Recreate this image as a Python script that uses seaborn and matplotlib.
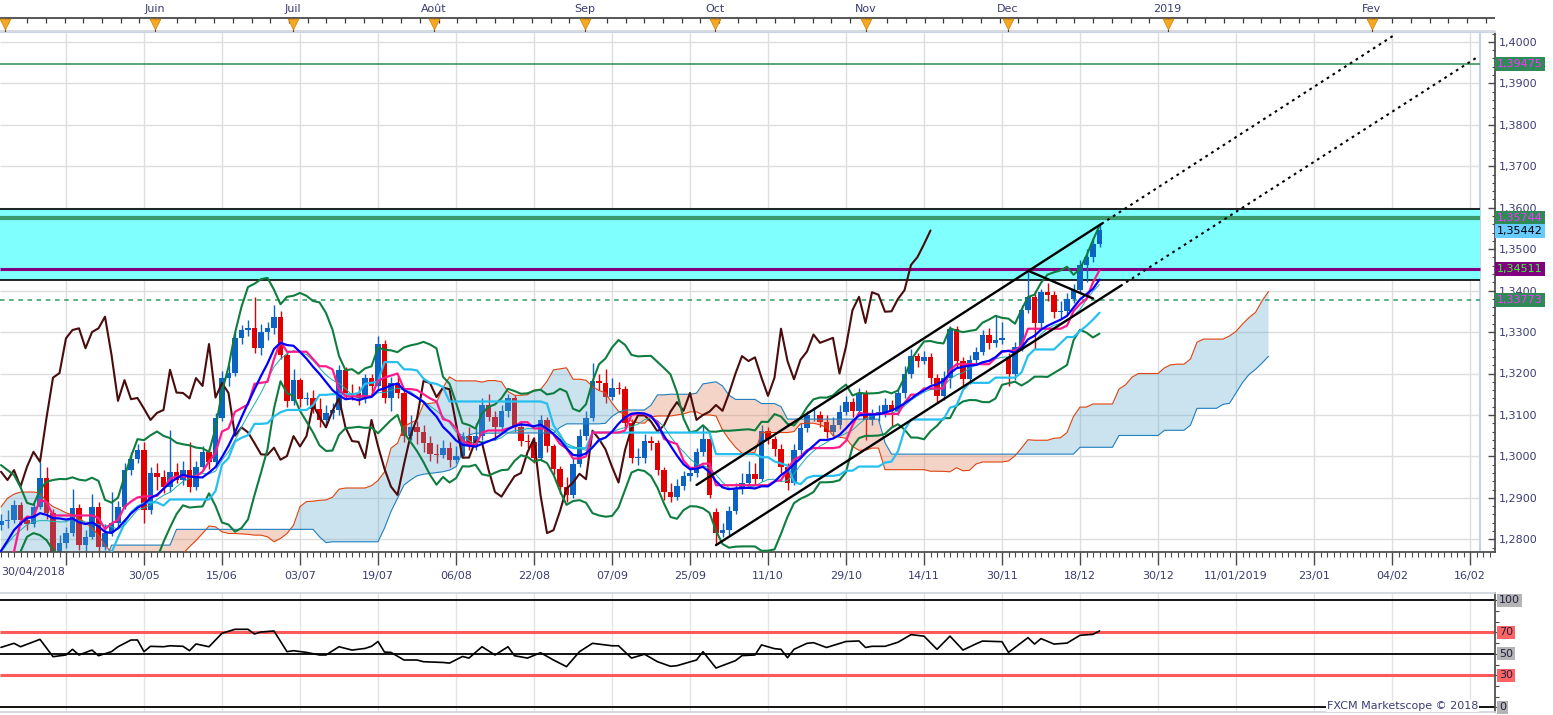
import numpy as np
import pandas as pd
import matplotlib
matplotlib.use("Agg")
import matplotlib.pyplot as plt
from matplotlib.transforms import blended_transform_factory
import seaborn as sns

# USD/CAD daily candles: bar 0 = 30/04/2018 ... bar 169 = 21/12/2018
opens = [
    1.2835, 1.2843, 1.2847, 1.2883, 1.2847, 1.2838, 1.2879, 1.2948, 1.2863, 1.2765,
    1.2791, 1.2815, 1.2876, 1.2787, 1.2806, 1.2878, 1.2781, 1.2815, 1.2839, 1.2879,
    1.2967, 1.2994, 1.3015, 1.2871, 1.2960, 1.2950, 1.2926, 1.2963, 1.2943, 1.2967,
    1.2927, 1.2975, 1.3011, 1.2987, 1.3093, 1.3190, 1.3201, 1.3285, 1.3305, 1.3309,
    1.3261, 1.3300, 1.3309, 1.3337, 1.3245, 1.3134, 1.3184, 1.3138, 1.3141, 1.3115,
    1.3088, 1.3105, 1.3112, 1.3209, 1.3154, 1.3153, 1.3140, 1.3189, 1.3170, 1.3271,
    1.3142, 1.3177, 1.3153, 1.3050, 1.3070, 1.3058, 1.3032, 1.3005, 1.3004, 1.3021,
    1.2992, 1.3001, 1.3049, 1.3024, 1.3049, 1.3125, 1.3095, 1.3070, 1.3110, 1.3140,
    1.3070, 1.3037, 1.3035, 1.2996, 1.3088, 1.3025, 1.2970, 1.2927, 1.2907, 1.2981,
    1.3050, 1.3092, 1.3182, 1.3177, 1.3143, 1.3166, 1.3162, 1.3080, 1.2997, 1.2997,
    1.3038, 1.3033, 1.2968, 1.2914, 1.2903, 1.2928, 1.2952, 1.2960, 1.3010, 1.3043,
    1.2865, 1.2815, 1.2822, 1.2868, 1.2922, 1.2937, 1.2958, 1.2945, 1.3062, 1.3042,
    1.3017, 1.2975, 1.2937, 1.3015, 1.3068, 1.3099, 1.3099, 1.3084, 1.3060, 1.3075,
    1.3108, 1.3131, 1.3110, 1.3153, 1.3088, 1.3100, 1.3108, 1.3124, 1.3110, 1.3152,
    1.3200, 1.3242, 1.3230, 1.3239, 1.3190, 1.3146, 1.3190, 1.3308, 1.3230, 1.3186,
    1.3233, 1.3253, 1.3294, 1.3274, 1.3280, 1.3240, 1.3200, 1.3265, 1.3353, 1.3385,
    1.3322, 1.3396, 1.3390, 1.3349, 1.3350, 1.3380, 1.3401, 1.3462, 1.3481, 1.3512,
]
highs = [
    1.2862, 1.2870, 1.2895, 1.2890, 1.2858, 1.2890, 1.2987, 1.2975, 1.2872, 1.2810,
    1.2830, 1.2921, 1.2885, 1.2822, 1.2910, 1.2890, 1.2838, 1.2915, 1.2892, 1.2985,
    1.3010, 1.3030, 1.3035, 1.2975, 1.2985, 1.2968, 1.3064, 1.2985, 1.2990, 1.3035,
    1.2990, 1.3025, 1.3020, 1.3105, 1.3205, 1.3220, 1.3300, 1.3318, 1.3330, 1.3385,
    1.3320, 1.3325, 1.3365, 1.3350, 1.3255, 1.3212, 1.3190, 1.3155, 1.3160, 1.3140,
    1.3125, 1.3130, 1.3220, 1.3215, 1.3175, 1.3170, 1.3200, 1.3200, 1.3290, 1.3280,
    1.3192, 1.3195, 1.3160, 1.3100, 1.3085, 1.3075, 1.3050, 1.3030, 1.3040, 1.3035,
    1.3025, 1.3060, 1.3070, 1.3080, 1.3140, 1.3150, 1.3110, 1.3125, 1.3150, 1.3148,
    1.3085, 1.3055, 1.3048, 1.3100, 1.3095, 1.3030, 1.2978, 1.2950, 1.2995, 1.3065,
    1.3110, 1.3225, 1.3200, 1.3210, 1.3190, 1.3180, 1.3170, 1.3090, 1.3020, 1.3055,
    1.3050, 1.3040, 1.2975, 1.2935, 1.2945, 1.2965, 1.2975, 1.3020, 1.3075, 1.3050,
    1.2875, 1.2840, 1.2880, 1.2935, 1.2960, 1.2990, 1.2985, 1.3075, 1.3070, 1.3050,
    1.3030, 1.2985, 1.3030, 1.3080, 1.3110, 1.3120, 1.3110, 1.3100, 1.3095, 1.3125,
    1.3145, 1.3140, 1.3165, 1.3160, 1.3115, 1.3125, 1.3140, 1.3135, 1.3165, 1.3218,
    1.3258, 1.3250, 1.3255, 1.3250, 1.3200, 1.3205, 1.3315, 1.3315, 1.3240, 1.3245,
    1.3265, 1.3305, 1.3310, 1.3340, 1.3325, 1.3250, 1.3275, 1.3365, 1.3446, 1.3400,
    1.3405, 1.3419, 1.3400, 1.3375, 1.3395, 1.3415, 1.3475, 1.3500, 1.3530, 1.3563,
]
lows = [
    1.2822, 1.2828, 1.2840, 1.2835, 1.2822, 1.2830, 1.2872, 1.2850, 1.2728, 1.2755,
    1.2780, 1.2808, 1.2775, 1.2772, 1.2800, 1.2772, 1.2775, 1.2808, 1.2828, 1.2872,
    1.2955, 1.2985, 1.2839, 1.2862, 1.2920, 1.2912, 1.2915, 1.2935, 1.2930, 1.2915,
    1.2920, 1.2965, 1.2970, 1.2975, 1.3085, 1.3170, 1.3195, 1.3270, 1.3290, 1.3250,
    1.3245, 1.3280, 1.3295, 1.3235, 1.3120, 1.3125, 1.3120, 1.3125, 1.3105, 1.3070,
    1.3075, 1.3090, 1.3100, 1.3140, 1.3135, 1.3125, 1.3130, 1.3155, 1.3160, 1.3130,
    1.3110, 1.3140, 1.3035, 1.3040, 1.3030, 1.3010, 1.2990, 1.2985, 1.2995, 1.2975,
    1.2985, 1.2995, 1.3015, 1.3015, 1.3040, 1.3085, 1.3040, 1.3060, 1.3095, 1.3060,
    1.3025, 1.3020, 1.2985, 1.2990, 1.3010, 1.2955, 1.2910, 1.2890, 1.2900, 1.2975,
    1.3040, 1.3085, 1.3160, 1.3130, 1.3135, 1.3150, 1.3070, 1.2985, 1.2980, 1.2985,
    1.3015, 1.2955, 1.2895, 1.2890, 1.2895, 1.2920, 1.2940, 1.2950, 1.3000, 1.2900,
    1.2786, 1.2805, 1.2810, 1.2860, 1.2910, 1.2930, 1.2930, 1.2940, 1.3030, 1.3000,
    1.2960, 1.2920, 1.2930, 1.3005, 1.3060, 1.3085, 1.3070, 1.3045, 1.3050, 1.3065,
    1.3100, 1.3095, 1.3100, 1.3040, 1.3075, 1.3085, 1.3095, 1.3070, 1.3100, 1.3140,
    1.3190, 1.3215, 1.3222, 1.3175, 1.3130, 1.3135, 1.3165, 1.3215, 1.3170, 1.3175,
    1.3220, 1.3245, 1.3260, 1.3265, 1.3270, 1.3170, 1.3185, 1.3255, 1.3345, 1.3260,
    1.3310, 1.3375, 1.3335, 1.3335, 1.3340, 1.3370, 1.3395, 1.3420, 1.3470, 1.3505,
]
closes = [
    1.2843, 1.2847, 1.2883, 1.2847, 1.2838, 1.2879, 1.2948, 1.2863, 1.2765, 1.2791,
    1.2815, 1.2876, 1.2787, 1.2806, 1.2878, 1.2781, 1.2815, 1.2839, 1.2879, 1.2967,
    1.2994, 1.3015, 1.2871, 1.2960, 1.2950, 1.2926, 1.2963, 1.2943, 1.2967, 1.2927,
    1.2975, 1.3011, 1.2987, 1.3093, 1.3190, 1.3201, 1.3285, 1.3305, 1.3309, 1.3261,
    1.3300, 1.3309, 1.3337, 1.3245, 1.3134, 1.3184, 1.3138, 1.3141, 1.3115, 1.3088,
    1.3105, 1.3112, 1.3209, 1.3154, 1.3153, 1.3140, 1.3189, 1.3170, 1.3271, 1.3142,
    1.3177, 1.3153, 1.3050, 1.3070, 1.3058, 1.3032, 1.3005, 1.3004, 1.3021, 1.2992,
    1.3001, 1.3049, 1.3024, 1.3049, 1.3125, 1.3095, 1.3070, 1.3110, 1.3140, 1.3070,
    1.3037, 1.3035, 1.2996, 1.3088, 1.3025, 1.2970, 1.2927, 1.2907, 1.2981, 1.3050,
    1.3092, 1.3182, 1.3177, 1.3143, 1.3166, 1.3162, 1.3080, 1.2997, 1.2997, 1.3038,
    1.3033, 1.2968, 1.2914, 1.2903, 1.2928, 1.2952, 1.2960, 1.3010, 1.3043, 1.2907,
    1.2815, 1.2822, 1.2868, 1.2922, 1.2937, 1.2958, 1.2945, 1.3062, 1.3042, 1.3017,
    1.2975, 1.2937, 1.3015, 1.3068, 1.3099, 1.3099, 1.3084, 1.3060, 1.3075, 1.3108,
    1.3131, 1.3110, 1.3153, 1.3088, 1.3100, 1.3108, 1.3124, 1.3110, 1.3152, 1.3200,
    1.3242, 1.3230, 1.3239, 1.3190, 1.3146, 1.3190, 1.3308, 1.3230, 1.3186, 1.3233,
    1.3253, 1.3294, 1.3274, 1.3280, 1.3286, 1.3200, 1.3265, 1.3353, 1.3385, 1.3322,
    1.3396, 1.3390, 1.3349, 1.3350, 1.3380, 1.3401, 1.3462, 1.3481, 1.3512, 1.3545,
]

# indicator values on the left edge, where the rolling windows are not yet full
bb_upper_head = [1.2979, 1.2967, 1.2955, 1.2926, 1.2888, 1.2883, 1.2919, 1.2939, 1.2943]
bb_lower_head = [1.2755, 1.2758, 1.2762, 1.2770, 1.2806, 1.2815, 1.2810, 1.2798, 1.2774]
sma10_head = [1.2772, 1.2796, 1.2822, 1.2838, 1.2851, 1.2854, 1.2863, 1.2859, 1.2851]
sma12_head = [1.2770, 1.2790, 1.2808, 1.2822, 1.2835, 1.2842, 1.2845, 1.2845, 1.2843,
              1.2842, 1.2842]
tenkan_head = [1.2750, 1.2760, 1.2770, 1.2842, 1.2854, 1.2854, 1.2895, 1.2890]
kijun_head = [1.2750, 1.2750, 1.2750, 1.2750, 1.2750, 1.2750,
              1.2757, 1.2757, 1.2757, 1.2757, 1.2757, 1.2757, 1.2757, 1.2757, 1.2757,
              1.2757, 1.2757, 1.2768, 1.2804, 1.2838, 1.2865, 1.2879, 1.2887, 1.2889,
              1.2889]
span_a_head = [1.2878, 1.2899, 1.2909, 1.2914, 1.2914, 1.2914, 1.2912, 1.2891, 1.2879,
               1.2872, 1.2864, 1.2859, 1.2851, 1.2840, 1.2827, 1.2810, 1.2786, 1.2768,
               1.2760, 1.2760, 1.2760, 1.2760, 1.2760, 1.2760, 1.2760, 1.2760, 1.2760,
               1.2760, 1.2766, 1.2782, 1.2797, 1.2814, 1.2832, 1.2830, 1.2818, 1.2814,
               1.2814, 1.2813, 1.2812, 1.2810, 1.2810, 1.2806, 1.2794, 1.2802, 1.2814,
               1.2834, 1.2879, 1.2891, 1.2892, 1.2894, 1.2895]
span_b_head = [1.2745] * 17 + [1.2786] * 10 + [1.2824] * 22 + [1.2806, 1.2792] + \
              [1.2794] * 8 + [1.2827, 1.2867, 1.2899, 1.2931, 1.2943, 1.2953, 1.2957,
                              1.2959, 1.2961, 1.2963, 1.2967, 1.2975, 1.3010, 1.3052] + \
              [1.3056] * 4

# RSI(14)
rsi_bars = [0, 2, 3, 6, 8, 10, 11, 12, 14, 15, 17, 18, 20, 21, 22, 23, 25, 26, 28, 29,
            30, 32, 34, 36, 38, 39, 40, 42, 44, 45, 47, 49, 50, 52, 54, 56, 57, 58, 59, 60,
            62, 64, 65, 68, 69, 71, 72, 74, 76, 78, 79, 81, 83, 85, 87, 89, 91, 94, 95, 97,
            99, 101, 103, 104, 107, 108, 110, 113, 114, 116, 117, 119, 120, 121, 122, 124,
            125, 127, 130, 132, 133, 134, 136, 138, 140, 142, 144, 146, 148, 150, 151, 154,
            155, 158, 159, 160, 162, 164, 166, 168, 169]
rsi_values = [56, 59.8, 56.6, 63.5, 47.3, 48.9, 54.2, 48.9, 53.5, 48.2, 52, 56.6, 62.9,
              62.9, 52, 57, 56.6, 57.5, 57, 52.9, 59.2, 56.6, 69.2, 72.9, 72.9, 68.5, 70.4,
              71.3, 52, 52.9, 51.3, 48.9, 48.9, 56.6, 53.5, 55, 57, 61.5, 51.6, 51.3, 44.2,
              44.2, 42.6, 41.9, 41.3, 47.5, 46, 56.6, 48.9, 56.6, 48.2, 46, 51, 44.2, 38,
              52, 59.8, 57.5, 57.5, 46, 49.6, 42.6, 38.3, 38.9, 44.2, 52, 36.7, 43.6, 48.3,
              48.9, 58.3, 54.8, 54.2, 46.3, 54.2, 59.8, 60.4, 55.9, 61.5, 62, 55.9, 57, 57,
              60.8, 67.9, 66.5, 54.2, 66.5, 53.5, 59.3, 61.9, 61.3, 51.3, 65.1, 59.1, 64.2,
              59.1, 60, 67.3, 68.2, 71.3]

# horizontal levels
level_green = 1.39475
zone_top, zone_bottom = 1.3596, 1.3425
level_green_thick = 1.35744
level_purple = 1.34511
level_dashed = 1.33773
last_price = 1.35442

# trend lines drawn on the chart, as (bar, price)
channel_upper = [(107.0, 1.2931), (169.3, 1.3561)]
channel_upper_ext = [(169.3, 1.3561), (214.5, 1.4018)]
channel_lower = [(110.0, 1.2786), (172.2, 1.3411)]
channel_lower_ext = [(172.2, 1.3411), (227.2, 1.3964)]
swing_line = [(158.0, 1.3448), (168.0, 1.3381)]

# axis labels
month_names = ["Juin", "Juil", "Août", "Sep", "Oct", "Nov", "Dec", "2019", "Fev"]
month_bars = [23.7, 44.9, 66.6, 89.8, 109.8, 133.1, 154.9, 179.5, 210.9]
may_bar = 0.6
date_labels = ["", "30/05", "15/06", "03/07", "19/07", "06/08", "22/08", "07/09", "25/09",
               "11/10", "29/10", "14/11", "30/11", "18/12", "30/12", "11/01/2019", "23/01",
               "04/02", "16/02"]

# ---------------------------------------------------------------- indicators
n = len(closes)
idx = np.arange(n)
o, h, l, c = (np.array(v) for v in (opens, highs, lows, closes))
cs, hs, ls = pd.Series(c), pd.Series(h), pd.Series(l)

sma10 = cs.rolling(10).mean().to_numpy()
std10 = cs.rolling(10).std(ddof=0).to_numpy()
bb_up = sma10 + 2 * std10
bb_lo = sma10 - 2 * std10
sma10[:9] = sma10_head
bb_up[:9] = bb_upper_head
bb_lo[:9] = bb_lower_head
sma12 = cs.rolling(12).mean().to_numpy()
sma12[:11] = sma12_head

tenkan = ((hs.rolling(9).max() + ls.rolling(9).min()) / 2).to_numpy()
tenkan[:8] = tenkan_head
kijun = ((hs.rolling(26).max() + ls.rolling(26).min()) / 2).to_numpy()
kijun[:25] = kijun_head
span_a_calc = (tenkan + kijun) / 2
span_b_calc = ((hs.rolling(52).max() + ls.rolling(52).min()) / 2).to_numpy()
span_a = np.concatenate([span_a_head, span_a_calc[25:]])
span_b = np.concatenate([span_b_head, span_b_calc[51:]])
cloud_idx = np.arange(len(span_a))

# ---------------------------------------------------------------- layout
sns.set_theme(style="white")
plt.rcParams["font.family"] = ["DejaVu Sans"]

FW, FH = 1553, 715
fig = plt.figure(figsize=(FW / 100, FH / 100), dpi=100)
fig.patch.set_facecolor("white")


def bar_of(px):
    return (px - 1) / 6.5


x0, x1 = bar_of(0), bar_of(1495)
x_edge = bar_of(1480)
grid_bars = np.arange(10, 227, 12)
label_col = "#3c3c74"
axis_col = "#4a4a4a"


def price_of(py):
    return 1.4 - (py - 41.9) / 4145


ax = fig.add_axes([0, 1 - 552 / FH, 1495 / FW, (552 - 32) / FH])
ax.set_facecolor("white")


def draw_line(axis, xs, ys, color, lw, z=3.0):
    sns.lineplot(x=np.asarray(xs, float), y=np.asarray(ys, float), ax=axis, color=color,
                 linewidth=lw, zorder=z, estimator=None, sort=False)


# grid
ax.hlines(np.arange(1.28, 1.4001, 0.01), x0, x_edge, color="#dedede", lw=1, zorder=0)
ax.vlines(grid_bars, 1.2, 1.5, color="#dedede", lw=1, zorder=0)
ax.axvline(x_edge, color="#c9d3e3", lw=1.6, zorder=0.2)

# resistance zone and levels
ax.fill_between([x0, x_edge], zone_bottom, zone_top, color="#80ffff", lw=0, zorder=0.5)
ax.hlines([zone_top, zone_bottom], x0, x_edge, color="black", lw=1.2, zorder=1)
ax.hlines(level_green, x0, x_edge, color="#2e8b57", lw=1.1, zorder=1)
ax.hlines(level_green_thick, x0, x_edge, color="#3a9a6c", lw=3, zorder=1)
ax.hlines(level_purple, x0, x_edge, color="#800080", lw=2.2, zorder=1)
ax.hlines(level_dashed, x0, x_edge, color="#2e9e5e", lw=1.1, linestyles=(0, (3, 3)), zorder=1)

# candles
up = c >= o
cols = np.where(up, "#0b63c5", "#e00000")
ax.vlines(idx, l, h, colors=cols, lw=1.0, zorder=2)
ax.bar(idx, np.maximum(np.abs(c - o), 0.0001), bottom=np.minimum(o, c), width=0.8,
       color=cols, linewidth=0, zorder=2.1)

# ichimoku cloud (translucent, over the candles)
ax.fill_between(cloud_idx, span_a, span_b, where=span_a >= span_b, interpolate=True,
                color="#55a0cc", alpha=0.3, lw=0, zorder=2.5)
ax.fill_between(cloud_idx, span_a, span_b, where=span_a < span_b, interpolate=True,
                color="#dd7347", alpha=0.3, lw=0, zorder=2.5)
draw_line(ax, cloud_idx, span_a, "#e0440e", 0.8, 2.6)
draw_line(ax, cloud_idx, span_b, "#1f7fbf", 0.8, 2.6)

# other indicators
draw_line(ax, idx[26:] - 26, c[26:], "#4a0c0c", 1.5)
draw_line(ax, idx, bb_up, "#0f7d3f", 1.5)
draw_line(ax, idx, bb_lo, "#0f7d3f", 1.5)
draw_line(ax, idx, kijun, "#26bff0", 1.6)
draw_line(ax, idx, sma12, "#1aaeae", 0.7)
draw_line(ax, idx, tenkan, "#ff1a8c", 1.6)
draw_line(ax, idx, sma10, "#0000ff", 1.6)

# channel
for seg in (channel_upper, channel_lower, swing_line):
    ax.plot([p[0] for p in seg], [p[1] for p in seg], color="black", lw=1.7, zorder=4)
for seg in (channel_upper_ext, channel_lower_ext):
    ax.plot([p[0] for p in seg], [p[1] for p in seg], color="black", lw=1.5,
            linestyle=(0, (1.3, 2.0)), zorder=4)

ax.set_xlim(x0, x1)
ax.set_ylim(price_of(552), price_of(32))
ax.set_xlabel("")
ax.set_ylabel("")

# axes
yt = np.round(np.arange(1.28, 1.4001, 0.01), 2)
ax.yaxis.tick_right()
ax.set_yticks(yt)
ax.set_yticklabels([f"{v:.4f}".replace(".", ",") for v in yt])
ax.set_yticks(np.arange(1.278, 1.4025, 0.002), minor=True)
ax.tick_params(axis="y", which="major", direction="in", length=5, width=1, color=axis_col,
               labelcolor=label_col, labelsize=8, pad=3, right=True, left=False)
ax.tick_params(axis="y", which="minor", direction="in", length=2.5, width=0.8,
               color=axis_col, right=True, left=False)
ax.set_xticks(grid_bars)
ax.set_xticklabels(date_labels)
ax.set_xticks(np.arange(0, 230), minor=True)
ax.tick_params(axis="x", which="major", direction="out", length=9, width=1, color=axis_col,
               labelcolor=label_col, labelsize=8, pad=5, bottom=True)
ax.tick_params(axis="x", which="minor", direction="out", length=3.5, width=0.8,
               color=axis_col, bottom=True)
ax.text(x0 + 0.2, -0.028, "30/04/2018", transform=blended_transform_factory(ax.transData, ax.transAxes),
        ha="left", va="top", fontsize=8, color=label_col)
ax.spines["left"].set_visible(False)
ax.spines["top"].set_color("#c9d3e3")
ax.spines["top"].set_linewidth(1.5)
ax.spines["right"].set_color(axis_col)
ax.spines["bottom"].set_color(axis_col)

# price tags on the right axis
tag_tr = blended_transform_factory(ax.transAxes, ax.transData)
for val, fc, tc in [(level_green, "#2e8b57", "#ff33ff"), (level_green_thick, "#2e8b57", "#ff33ff"),
                    (last_price, "#66ccff", "black"), (level_purple, "#800080", "#33ff33"),
                    (level_dashed, "#2e8b57", "#ff33ff")]:
    ax.text(1 + 2 / 1495, val, f"{val:.5f}".replace(".", ","), transform=tag_tr, ha="left",
            va="center", fontsize=8, color=tc, zorder=10, clip_on=False,
            bbox=dict(boxstyle="square,pad=0.18", fc=fc, ec="none"))

# ---------------------------------------------------------------- month header
hax = fig.add_axes([0, 1 - 32 / FH, 1495 / FW, 32 / FH])
hax.set_xlim(x0, x1)
hax.set_ylim(32, 0)
hax.axis("off")
hax.axhline(18, color="#3a3a3a", lw=1.2)
hax.vlines(np.arange(1.15, x1, 2.877), 18, 22.5, color="#3a3a3a", lw=0.9)
hax.axhspan(29.8, 32, color="#d6dae2", lw=0)
all_months = [may_bar] + month_bars
hax.vlines(all_months, 18, 32, color="#5a3a10", lw=0.8, zorder=2)
hax.scatter(all_months, [23.5] * len(all_months), marker="v", s=60, color="#f7a823",
            edgecolors="#d08000", linewidths=0.5, zorder=3)
for name, b in zip(month_names, month_bars):
    hax.text(b, 9.5, name, ha="center", va="center", fontsize=8, color=label_col)

# ---------------------------------------------------------------- RSI panel
def rsi_of(py):
    return 100 - (py - 600.3) / 1.07


rax = fig.add_axes([0, 1 - 712 / FH, 1495 / FW, (712 - 593) / FH])
rax.set_facecolor("white")
rax.vlines(grid_bars, -10, 110, color="#e4e4e4", lw=1, zorder=0)
rax.hlines([100, 50, 0], x0, x1, color="black", lw=1.3, zorder=1)
rax.hlines([70, 30], x0, x1, color="#ff5a5a", lw=2.2, zorder=1)
draw_line(rax, rsi_bars, rsi_values, "black", 1.2)
rax.set_xlim(x0, x1)
rax.set_ylim(rsi_of(712), rsi_of(593))
rax.set_xlabel("")
rax.set_ylabel("")
rax.set_xticks([])
rax.yaxis.tick_right()
rax.set_yticks(np.arange(0, 101, 10))
rax.set_yticklabels([])
rax.tick_params(axis="y", direction="out", length=3, width=0.8, color=axis_col, right=True,
                left=False)
rax.spines["left"].set_visible(False)
rax.spines["top"].set_color("#cfd4dc")
rax.spines["bottom"].set_color("#cfd4dc")
rax.spines["right"].set_color(axis_col)
rtr = blended_transform_factory(rax.transAxes, rax.transData)
for val, fc in [(100, "#b4b4b4"), (70, "#ff6464"), (50, "#b4b4b4"), (30, "#ff6464"), (0, "#b4b4b4")]:
    rax.text(1 + 4 / 1495, val, str(val), transform=rtr, ha="left", va="center", fontsize=8,
             color="#202040", clip_on=False, zorder=10,
             bbox=dict(boxstyle="square,pad=0.15", fc=fc, ec="none"))
rax.text(bar_of(1478), rsi_of(706), "FXCM Marketscope © 2018", ha="right", va="center",
         fontsize=8, color=label_col, zorder=5,
         bbox=dict(boxstyle="square,pad=0.1", fc="white", ec="none"))

fig.savefig("out.png", dpi=100)
